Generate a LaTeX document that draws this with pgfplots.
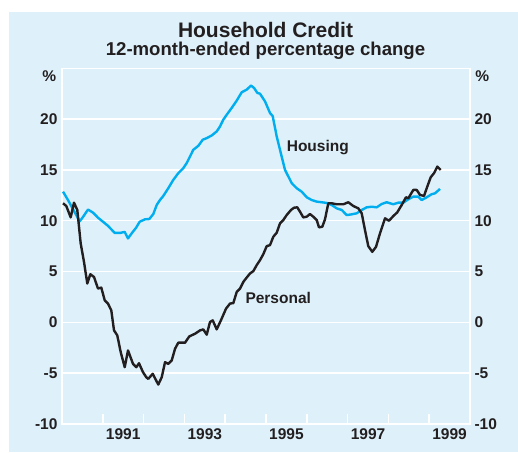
\documentclass[border=0pt]{standalone}
\usepackage{pgfplots}
\pgfplotsset{compat=1.18}
\usepackage{fontspec}
\setmainfont{Liberation Sans}
\definecolor{panel}{RGB}{222,241,250}
\definecolor{housing}{RGB}{0,174,239}
\definecolor{personal}{RGB}{35,31,32}
\newcommand{\tickfont}{\fontsize{15.5}{18}\selectfont\bfseries}
\begin{document}
\begin{tikzpicture}[x=1pt,y=1pt]
\useasboundingbox (-62,-28) rectangle (456,424);
\fill[panel] (-53,-28) rectangle (456,412.3);
\node[font=\fontsize{21}{24}\selectfont\bfseries, text=personal] at (203.5,394) {Household Credit};
\node[font=\fontsize{18.6}{22}\selectfont\bfseries, text=personal] at (203.5,373.3) {12-month-ended percentage change};
\begin{axis}[
  at={(0,0)}, anchor=south west,
  scale only axis, width=408pt, height=355.7pt,
  xmin=1990, xmax=2000, ymin=-10, ymax=25,
  axis background/.style={fill=panel},
  axis line style={white, line width=1.5pt},
  ytick={-10,-5,...,20}, yticklabels={-10,-5,0,5,10,15,20},
  ymajorgrids, major grid style={white, line width=1.5pt},
  major tick length=0pt,
  xtick={1991.5,1993.5,1995.5,1997.5,1999.5},
  xticklabels={1991,1993,1995,1997,1999},
  minor xtick={1991,1992,...,1999},
  minor tick length=10pt,
  minor tick style={white, line width=1.5pt},
  xtick pos=bottom, ytick pos=left,
  tick align=inside,
  ticklabel style={font=\tickfont, text=personal},
  yticklabel style={xshift=-1pt},
  xticklabel style={yshift=-1pt},
]
\addplot[housing, line width=2.4pt, line join=round] coordinates {
(1990.025,12.86) (1990.147,12.04) (1990.294,10.96) (1990.434,9.95) (1990.515,10.37)
(1990.637,11.1) (1990.760,10.8) (1990.882,10.3) (1991.005,9.9) (1991.127,9.5)
(1991.292,8.8) (1991.422,8.8) (1991.537,8.9) (1991.618,8.26) (1991.716,8.8)
(1991.814,9.3) (1991.904,9.9) (1992.034,10.14) (1992.140,10.17) (1992.238,10.66)
(1992.321,11.55) (1992.402,12.04) (1992.483,12.44) (1992.605,13.2) (1992.728,14.02)
(1992.850,14.68) (1992.973,15.17) (1993.056,15.67) (1993.137,16.32) (1993.218,16.98)
(1993.341,17.37) (1993.449,17.97) (1993.547,18.13) (1993.669,18.39) (1993.792,18.79)
(1993.873,19.28) (1993.953,19.94) (1994.037,20.43) (1994.159,21.1) (1994.282,21.82)
(1994.404,22.64) (1994.527,22.9) (1994.632,23.3) (1994.706,23.07) (1994.787,22.58)
(1994.853,22.5) (1994.975,21.75) (1995.098,20.6) (1995.164,20.3) (1995.262,18.3)
(1995.385,16.3) (1995.466,15.0) (1995.630,13.7) (1995.752,13.2) (1995.875,12.86)
(1995.998,12.31) (1996.120,12.04) (1996.243,11.88) (1996.365,11.82) (1996.488,11.75)
(1996.610,11.55) (1996.733,11.22) (1996.855,11.06) (1996.978,10.56) (1997.100,10.63)
(1997.223,10.73) (1997.346,11.06) (1997.468,11.32) (1997.591,11.38) (1997.713,11.32)
(1997.836,11.65) (1997.958,11.82) (1998.120,11.62) (1998.243,11.78) (1998.365,11.78)
(1998.488,12.11) (1998.610,12.37) (1998.733,12.37) (1998.816,12.04) (1998.939,12.31)
(1999.061,12.61) (1999.142,12.7) (1999.265,13.13)
};
\addplot[personal, line width=2.4pt, line join=round] coordinates {
(1990.025,11.72) (1990.105,11.45) (1990.213,10.33) (1990.294,11.78) (1990.375,11.06)
(1990.458,7.77) (1990.539,5.95) (1990.620,3.82) (1990.694,4.74) (1990.784,4.47)
(1990.882,3.33) (1990.963,3.42) (1991.047,2.17) (1991.127,1.85) (1991.208,1.18)
(1991.275,-0.79) (1991.355,-1.28) (1991.439,-2.93) (1991.537,-4.41) (1991.618,-2.76)
(1991.740,-4.08) (1991.821,-4.41) (1991.887,-4.02) (1991.985,-4.9) (1992.066,-5.4)
(1992.115,-5.56) (1992.223,-5.06) (1992.360,-6.12) (1992.444,-5.4) (1992.525,-3.92)
(1992.605,-4.08) (1992.689,-3.75) (1992.770,-2.6) (1992.850,-2.0) (1993.015,-2.0)
(1993.120,-1.38) (1993.260,-1.12) (1993.382,-0.79) (1993.463,-0.69) (1993.547,-1.21)
(1993.627,0.03) (1993.694,0.2) (1993.792,-0.69) (1993.914,0.37) (1994.020,1.35)
(1994.118,1.85) (1994.199,1.9) (1994.282,2.99) (1994.363,3.32) (1994.444,3.98)
(1994.527,4.41) (1994.608,4.81) (1994.689,5.04) (1994.772,5.63) (1994.853,6.12)
(1994.934,6.71) (1995.017,7.5) (1995.098,7.6) (1995.179,8.42) (1995.262,8.82)
(1995.343,9.74) (1995.424,10.07) (1995.507,10.56) (1995.613,11.06) (1995.686,11.28)
(1995.767,11.32) (1995.833,10.89) (1995.914,10.33) (1995.998,10.4) (1996.078,10.66)
(1996.159,10.4) (1996.243,10.07) (1996.299,9.35) (1996.380,9.41) (1996.446,10.14)
(1996.527,11.72) (1996.610,11.72) (1996.733,11.62) (1996.895,11.62) (1997.017,11.82)
(1997.140,11.45) (1997.262,11.22) (1997.346,10.73) (1997.426,9.08) (1997.507,7.5)
(1997.605,6.94) (1997.696,7.43) (1997.794,8.76) (1997.917,10.24) (1998.015,10.0)
(1998.120,10.46) (1998.218,10.83) (1998.326,11.55) (1998.431,12.31) (1998.488,12.21)
(1998.610,13.03) (1998.694,13.03) (1998.775,12.54) (1998.873,12.44) (1998.953,13.36)
(1999.037,14.28) (1999.118,14.68) (1999.199,15.33) (1999.282,15.0)
};
\node[font=\tickfont, text=personal] at (axis cs:1996.27,17.25) {Housing};
\node[font=\tickfont, text=personal] at (axis cs:1995.3,2.45) {Personal};
\end{axis}
\begin{axis}[
  at={(0,0)}, anchor=south west,
  scale only axis, width=408pt, height=355.7pt,
  xmin=1990, xmax=2000, ymin=-10, ymax=25,
  hide x axis, axis line style={draw=none},
  ytick={-10,-5,...,20}, yticklabels={-10,-5,0,5,10,15,20},
  major tick length=0pt,
  ytick pos=right, yticklabel pos=right,
  ticklabel style={font=\tickfont, text=personal},
  yticklabel style={xshift=1pt},
]
\end{axis}
\node[font=\tickfont, text=personal] at (-12.7,348) {\%};
\node[font=\tickfont, text=personal] at (420.3,348) {\%};
\end{tikzpicture}
\end{document}
